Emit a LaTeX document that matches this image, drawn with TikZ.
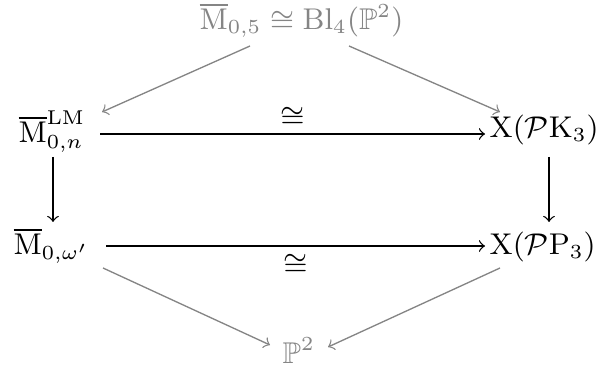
\documentclass[tikz,border=0pt]{standalone}
\usepackage{amssymb}
\begin{document}
\begin{tikzpicture}[x=0.3pt,y=-0.3pt,
  lbl/.style={inner sep=0pt,anchor=base west,font=\fontsize{9}{11}\selectfont},
  gl/.style={lbl,text=black!48},
  cdarrow/.style={->,line width=0.4pt,black},
  grarrow/.style={->,line width=0.4pt,black!48},
  iso/.style={inner sep=0pt,font=\fontsize{9}{11}\selectfont}]
\useasboundingbox (0,0) rectangle (596,372);
\node[gl] (top) at (199,30) {$\overline{\mathrm{M}}_{0,5}\cong \mathrm{Bl}_4(\mathbb{P}^2)$};
\node[lbl] (ML) at (18,143) {$\overline{\mathrm{M}}_{0,n}^{\mathrm{LM}}$};
\node[lbl] (XK) at (489,138) {$\mathrm{X}(\mathcal{P}\mathrm{K}_3)$};
\node[lbl] (Mw) at (13,255) {$\overline{\mathrm{M}}_{0,\omega'}$};
\node[lbl] (XP) at (489,255) {$\mathrm{X}(\mathcal{P}\mathrm{P}_3)$};
\node[gl] (P2) at (282,363) {$\mathbb{P}^2$};
% horizontal
\draw[cdarrow] ([shift={(82,-9)}]ML.base west) -- node[iso,above=1.6pt] {$\cong$} ([shift={(-4,-4)}]XK.base west);
\draw[cdarrow] ([shift={(93,-9)}]Mw.base west) -- node[iso,below=2.4pt] {$\cong$} ([shift={(-4,-9)}]XP.base west);
% vertical
\draw[cdarrow] ([shift={(35,14)}]ML.base west) -- ([shift={(40,-33)}]Mw.base west);
\draw[cdarrow] ([shift={(60,19)}]XK.base west) -- ([shift={(60,-33)}]XP.base west);
% diagonals
\draw[grarrow] ([shift={(51,16)}]top.base west) -- ([shift={(84,-31)}]ML.base west);
\draw[grarrow] ([shift={(150,16)}]top.base west) -- ([shift={(11,-26)}]XK.base west);
\draw[grarrow] ([shift={(90,13)}]Mw.base west) -- ([shift={(-12,-18)}]P2.base west);
\draw[grarrow] ([shift={(11,13)}]XP.base west) -- ([shift={(46,-16)}]P2.base west);
\end{tikzpicture}
\end{document}
